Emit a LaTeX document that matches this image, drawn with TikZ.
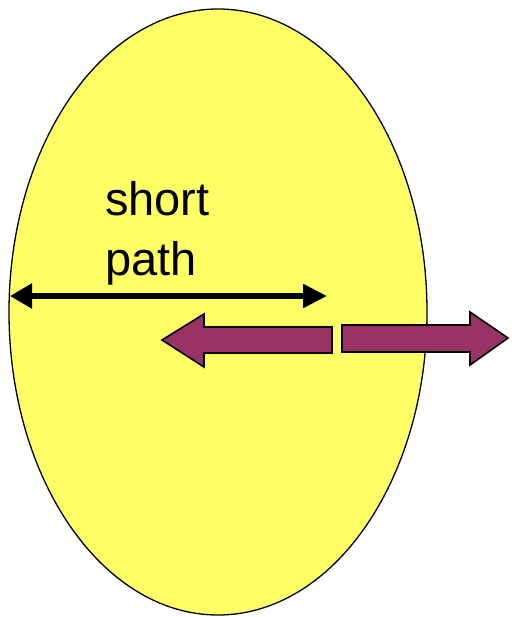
\documentclass[tikz,border=0pt]{standalone}
\usepackage{fontspec}
\setmainfont{Liberation Sans}
\usetikzlibrary{arrows.meta}
\definecolor{eggyellow}{HTML}{FFFF66}
\definecolor{plum}{HTML}{993366}
\begin{document}
\begin{tikzpicture}[x=1pt,y=-1pt,
  blockarrow/.style={fill=plum,draw=black,line width=1.6pt,line join=miter},
  measure/.style={line width=5.5pt,{Triangle[length=22pt,width=24pt]}-{Triangle[length=24pt,width=23pt]}}]
\useasboundingbox (0,0) rectangle (511,617);
\draw[fill=eggyellow,line width=1.3pt] (218,312) ellipse [x radius=209, y radius=303];
\node[font=\fontsize{47}{60}\selectfont,align=left,anchor=north west,inner sep=0pt] (lbl) at (105,181) {short\\path};
\coordinate (mL) at (10,296);
\coordinate (mR) at (327,296);
\draw[measure] (mL) -- (mR);
% left block arrow
\draw[blockarrow] (162,340) -- (204,314) -- (204,327) -- (332,327) -- (332,353) -- (204,353) -- (204,367) -- cycle;
% right block arrow
\draw[blockarrow] (508,338) -- (470,312) -- (470,325) -- (342,325) -- (342,352) -- (470,352) -- (470,365) -- cycle;
\end{tikzpicture}
\end{document}
